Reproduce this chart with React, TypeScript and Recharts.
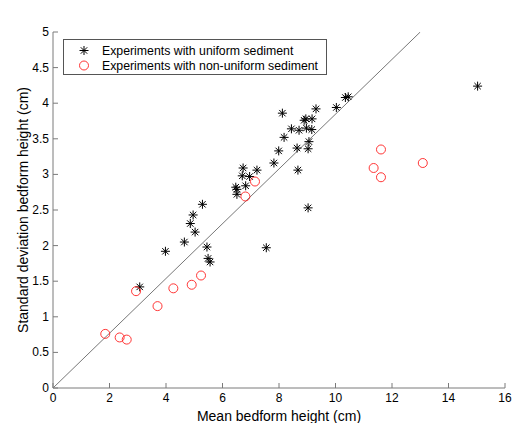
import React from 'react';
import {
  ScatterChart,
  Scatter,
  XAxis,
  YAxis,
  ReferenceLine,
  Legend,
} from 'recharts';

// uniform sediment experiments (mean height, std dev height), cm
const uniformX = [
  3.07, 3.98, 4.65, 4.86, 4.96, 5.03, 5.29, 5.45, 5.49, 5.56,
  6.47, 6.51, 6.51, 6.70, 6.73, 6.82, 6.96, 7.22, 7.55, 7.82,
  7.99, 8.12, 8.18, 8.44, 8.64, 8.67, 8.71, 8.89, 8.95, 8.97,
  9.03, 9.03, 9.06, 9.16, 9.17, 9.31, 10.03, 10.35, 10.45, 15.03,
];
const uniformY = [
  1.42, 1.92, 2.05, 2.31, 2.43, 2.19, 2.58, 1.98, 1.82, 1.77,
  2.82, 2.79, 2.72, 2.98, 3.09, 2.84, 2.97, 3.06, 1.97, 3.16,
  3.33, 3.86, 3.52, 3.64, 3.37, 3.06, 3.62, 3.76, 3.78, 3.65,
  3.36, 2.53, 3.46, 3.63, 3.78, 3.92, 3.94, 4.08, 4.09, 4.24,
];

// non-uniform sediment experiments
const mixedX = [1.85, 2.36, 2.61, 2.94, 3.70, 4.26, 4.91, 5.24, 6.81, 7.15, 11.35, 11.61, 11.61, 13.09];
const mixedY = [0.76, 0.71, 0.68, 1.36, 1.15, 1.40, 1.45, 1.58, 2.69, 2.90, 3.09, 3.35, 2.96, 3.16];

// reference line end points
const lineX = [0, 13];
const lineY = [0, 5];

const xTicks = [0, 2, 4, 6, 8, 10, 12, 14, 16];
const yTicks = [0, 0.5, 1, 1.5, 2, 2.5, 3, 3.5, 4, 4.5, 5];

const uniformData = uniformX.map((x, i) => ({ x, y: uniformY[i] }));
const mixedData = mixedX.map((x, i) => ({ x, y: mixedY[i] }));

const FONT = '"Liberation Sans", Arial, sans-serif';
const AXIS = '#7a7a7a';
const TICK = 5;

const Star = ({ cx, cy }: any) => {
  const r = 4.5;
  const d = 3.2;
  return (
    <g stroke="#000" strokeWidth={1}>
      <line x1={cx - r} y1={cy} x2={cx + r} y2={cy} />
      <line x1={cx} y1={cy - r} x2={cx} y2={cy + r} />
      <line x1={cx - d} y1={cy - d} x2={cx + d} y2={cy + d} />
      <line x1={cx - d} y1={cy + d} x2={cx + d} y2={cy - d} />
    </g>
  );
};

const Ring = ({ cx, cy }: any) => (
  <circle cx={cx} cy={cy} r={4.5} fill="none" stroke="#ff2020" strokeWidth={0.9} />
);

const BottomTick = ({ x, y, payload }: any) => (
  <g>
    <line x1={x} y1={y - 6} x2={x} y2={y - 6 - TICK} stroke={AXIS} />
    <text x={x} y={y} dy={8} textAnchor="middle" fontSize={12} fontFamily={FONT} fill="#000">
      {payload.value}
    </text>
  </g>
);

const TopTick = ({ x, y }: any) => (
  <line x1={x} y1={y} x2={x} y2={y + TICK} stroke={AXIS} />
);

const LeftTick = ({ x, y, payload }: any) => (
  <g>
    <line x1={x + 4} y1={y} x2={x + 4 + TICK} y2={y} stroke={AXIS} />
    <text x={x} y={y} dy={4} textAnchor="end" fontSize={12} fontFamily={FONT} fill="#000">
      {payload.value}
    </text>
  </g>
);

const RightTick = ({ x, y }: any) => (
  <line x1={x} y1={y} x2={x - TICK} y2={y} stroke={AXIS} />
);

const LegendBox = () => (
  <div
    style={{
      border: '1px solid #555',
      background: '#fff',
      width: 264,
      height: 36,
      fontFamily: FONT,
      fontSize: 12.3,
      color: '#000',
      boxSizing: 'border-box',
      paddingTop: 3,
    }}
  >
    <div style={{ display: 'flex', alignItems: 'center', height: 15 }}>
      <svg width={38} height={15}>
        <Star cx={20} cy={7.5} />
      </svg>
      <span>Experiments with uniform sediment</span>
    </div>
    <div style={{ display: 'flex', alignItems: 'center', height: 15 }}>
      <svg width={38} height={15}>
        <Ring cx={20} cy={7.5} />
      </svg>
      <span>Experiments with non-uniform sediment</span>
    </div>
  </div>
);

export default function App() {
  return (
    <div style={{ position: 'absolute', left: 0, top: 0 }}>
      <ScatterChart width={514} height={423} margin={{ top: 32, right: 9, bottom: 0, left: 0 }}>
        <XAxis
          xAxisId="b"
          type="number"
          dataKey="x"
          domain={[0, 16]}
          ticks={xTicks}
          allowDataOverflow
          height={35}
          stroke={AXIS}
          tickLine={false}
          tickSize={0}
          tickMargin={6}
          tick={<BottomTick />}
          label={{
            value: 'Mean bedform height (cm)',
            position: 'insideBottom',
            offset: 2,
            fontSize: 14,
            fontFamily: FONT,
            fill: '#000',
          }}
        />
        <XAxis
          xAxisId="t"
          orientation="top"
          type="number"
          dataKey="x"
          domain={[0, 16]}
          ticks={xTicks}
          allowDataOverflow
          height={0}
          stroke={AXIS}
          tickLine={false}
          tickSize={0}
          tickMargin={0}
          tick={<TopTick />}
          label={{
            value: 'Bedform height',
            position: 'top',
            offset: 10,
            fontSize: 14,
            fontFamily: FONT,
            fill: '#000',
          }}
        />
        <YAxis
          yAxisId="l"
          type="number"
          dataKey="y"
          domain={[0, 5]}
          ticks={yTicks}
          allowDataOverflow
          width={53}
          stroke={AXIS}
          tickLine={false}
          tickSize={0}
          tickMargin={4}
          tick={<LeftTick />}
          label={{
            value: 'Standard deviation bedform height (cm)',
            angle: -90,
            position: 'insideLeft',
            offset: 23,
            fontSize: 14,
            fontFamily: FONT,
            fill: '#000',
            style: { textAnchor: 'middle' },
          }}
        />
        <YAxis
          yAxisId="r"
          orientation="right"
          type="number"
          dataKey="y"
          domain={[0, 5]}
          ticks={yTicks}
          allowDataOverflow
          width={0}
          stroke={AXIS}
          tickLine={false}
          tickSize={0}
          tickMargin={0}
          tick={<RightTick />}
        />
        <ReferenceLine
          xAxisId="b"
          yAxisId="l"
          segment={[
            { x: lineX[0], y: lineY[0] },
            { x: lineX[1], y: lineY[1] },
          ]}
          stroke="#777"
          strokeWidth={1}
          ifOverflow="hidden"
        />
        <Scatter
          xAxisId="b"
          yAxisId="l"
          name="Experiments with uniform sediment"
          data={uniformData}
          shape={<Star />}
          isAnimationActive={false}
        />
        <Scatter
          xAxisId="b"
          yAxisId="l"
          name="Experiments with non-uniform sediment"
          data={mixedData}
          shape={<Ring />}
          isAnimationActive={false}
        />
        <Legend
          layout="vertical"
          align="center"
          verticalAlign="middle"
          wrapperStyle={{ top: 39, left: 63, width: 264 }}
          content={() => <LegendBox />}
        />
      </ScatterChart>
    </div>
  );
}
